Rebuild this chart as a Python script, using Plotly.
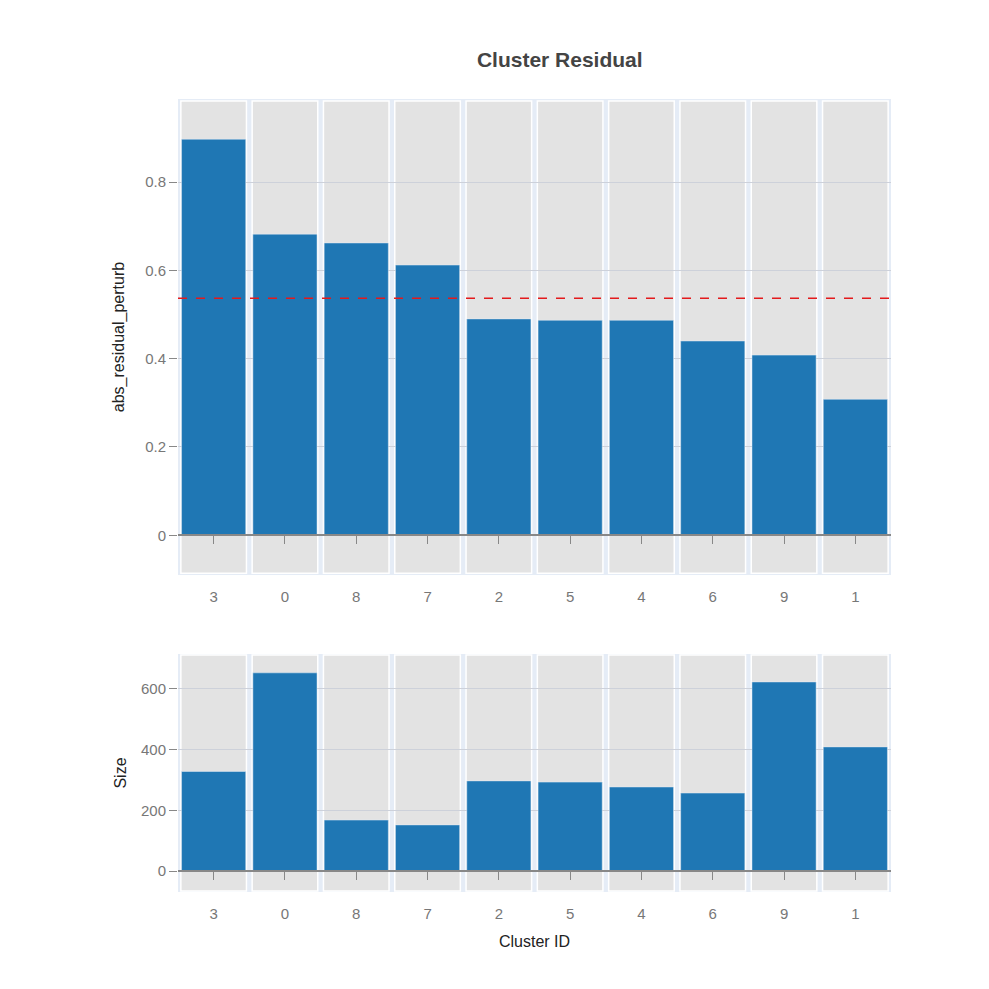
import plotly.graph_objects as go

clusters = ["3", "0", "8", "7", "2", "5", "4", "6", "9", "1"]
abs_residual = [0.897, 0.682, 0.662, 0.612, 0.490, 0.487, 0.487, 0.440, 0.408, 0.308]
sizes = [328, 653, 168, 152, 297, 293, 277, 257, 623, 409]
mean_residual = 0.537

top_range = [-0.09, 0.988]
bot_range = [-69, 715]
top_dom = [0.3997, 1.0]
bot_dom = [0.0, 0.3001]

FONT = "Liberation Sans, Arial, sans-serif"
BAR = "#1f77b4"
BAND = "#e3e3e3"
PLOTBG = "#E5ECF6"
GRID = "#cdd1da"
AXIS = "#888888"
TICKFONT = dict(family=FONT, size=15, color="#777777")
TITLEFONT = dict(family=FONT, size=16, color="#222222")

fig = go.Figure()
fig.add_trace(go.Bar(x=clusters, y=abs_residual, xaxis="x", yaxis="y",
                     marker=dict(color=BAR, line=dict(color=PLOTBG, width=0.5)),
                     width=0.9, showlegend=False))
fig.add_trace(go.Bar(x=clusters, y=sizes, xaxis="x2", yaxis="y2",
                     marker=dict(color=BAR, line=dict(color=PLOTBG, width=0.5)),
                     width=0.9, showlegend=False))
# invisible helpers so the zero-line axes get drawn
fig.add_trace(go.Scatter(x=[0], y=[0], xaxis="x3", yaxis="y", mode="markers",
                         marker=dict(opacity=0), hoverinfo="skip", showlegend=False))
fig.add_trace(go.Scatter(x=[0], y=[0], xaxis="x4", yaxis="y2", mode="markers",
                         marker=dict(opacity=0), hoverinfo="skip", showlegend=False))

shapes = []
for i, _ in enumerate(clusters):
    for xr, yr in (("x", "y domain"), ("x2", "y2 domain")):
        shapes.append(dict(type="rect", xref=xr, yref=yr, x0=i - 0.46, x1=i + 0.46,
                           y0=0.004, y1=0.996, fillcolor=BAND,
                           line=dict(color="white", width=1.5), layer="below"))
shapes.append(dict(type="line", xref="x domain", yref="y", x0=0, x1=1,
                   y0=mean_residual, y1=mean_residual,
                   line=dict(color="#e31a1c", width=1.5, dash="dash"), layer="above"))


def zero_pos(dom, rng):
    return dom[0] + (0 - rng[0]) / (rng[1] - rng[0]) * (dom[1] - dom[0])


cat_axis = dict(type="category", categoryorder="array", categoryarray=clusters,
                range=[-0.5, len(clusters) - 0.5], showgrid=False, zeroline=False,
                showline=False, ticks="outside", ticklen=8, tickcolor="rgba(0,0,0,0)",
                tickfont=TICKFONT, domain=[0, 1])
zero_axis = dict(type="linear", range=[-0.5, len(clusters) - 0.5],
                 tickvals=list(range(len(clusters))), showticklabels=False,
                 ticks="outside", ticklen=8, tickcolor=AXIS, tickwidth=1,
                 showline=True, linecolor=AXIS, linewidth=2, showgrid=False,
                 zeroline=False, anchor="free", domain=[0, 1])

fig.update_layout(
    width=989, height=989,
    margin=dict(l=178, r=98, t=99, b=97),
    paper_bgcolor="white", plot_bgcolor=PLOTBG,
    font=dict(family=FONT, size=14, color="#333333"),
    title=dict(text="<b>Cluster Residual</b>", x=0.566, xref="container", xanchor="center",
               y=0.940, yref="container", yanchor="middle",
               font=dict(family=FONT, size=21, color="#444444")),
    bargap=0.1,
    shapes=shapes,
    xaxis=dict(cat_axis, anchor="y"),
    xaxis2=dict(cat_axis, anchor="y2",
                title=dict(text="Cluster ID", font=TITLEFONT, standoff=14)),
    xaxis3=dict(zero_axis, overlaying="x", position=zero_pos(top_dom, top_range)),
    xaxis4=dict(zero_axis, overlaying="x2", position=zero_pos(bot_dom, bot_range)),
    yaxis=dict(domain=top_dom, range=top_range, dtick=0.2, tick0=0, showgrid=True,
               gridcolor=GRID, gridwidth=1, zeroline=False, showline=False,
               ticks="outside", ticklen=8, tickcolor=AXIS, tickfont=TICKFONT,
               tickformat="~g", anchor="x",
               title=dict(text="abs_residual_perturb", font=TITLEFONT, standoff=16)),
    yaxis2=dict(domain=bot_dom, range=bot_range, dtick=200, tick0=0, showgrid=True,
                gridcolor=GRID, gridwidth=1, zeroline=False, showline=False,
                ticks="outside", ticklen=8, tickcolor=AXIS, tickfont=TICKFONT,
                anchor="x2",
                title=dict(text="Size", font=TITLEFONT, standoff=10)),
)

fig.write_html("out.html")
